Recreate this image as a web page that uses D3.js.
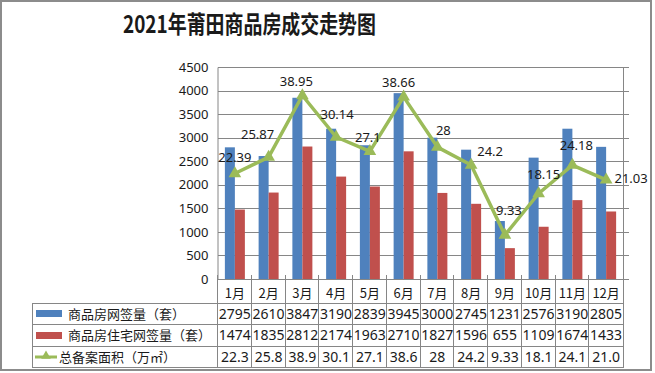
<!DOCTYPE html>
<html>
<head>
<meta charset="utf-8">
<script src="https://cdn.jsdelivr.net/npm/d3@7"></script>
<style>
    body { margin: 0; background: #fff; }
    svg text { font-family: "Noto Sans", "Noto Sans CJK SC", sans-serif; fill: #1a1a1a; }
</style>
</head>
<body>
<svg id="chart" width="655" height="373"></svg>
<script>
// data
var months = ["1月", "2月", "3月", "4月", "5月", "6月", "7月", "8月", "9月", "10月", "11月", "12月"];
var signed = [2795, 2610, 3847, 3190, 2839, 3945, 3000, 2745, 1231, 2576, 3190, 2805];
var resid = [1474, 1835, 2812, 2174, 1963, 2710, 1827, 1596, 655, 1109, 1674, 1433];
var area = [22.39, 25.87, 38.95, 30.14, 27.1, 38.66, 28, 24.2, 9.33, 18.15, 24.18, 21.03];
var leftTicks = [0, 500, 1000, 1500, 2000, 2500, 3000, 3500, 4000, 4500];
var seriesNames = ["商品房网签量（套）", "商品房住宅网签量（套）", "总备案面积（万㎡）"];
var title = "2021年莆田商品房成交走势图";

// label nudges (Excel hand placed them)
var labelShift = [[0, -16], [-11, -23], [-6, -14], [1, -23], [-2, -14], [-5, -14],
    [6, -17], [19, -13], [4, -25], [5, -19], [4, -20], [25, -1]];

var blue = "#4f81bd", red = "#c0504d", green = "#9bbb59", grid = "#868686";

var svg = d3.select("#chart");
var plotLeft = 218, plotRight = 623, plotTop = 67, plotBottom = 279;
var rows = [303, 324, 346, 367], legendLeft = 32;

// frame
svg.append("rect")
    .attr("x", 1).attr("y", 1).attr("width", 650).attr("height", 369)
    .attr("fill", "none").attr("stroke", "#8c8c8c").attr("stroke-width", 2);

svg.append("text")
    .attr("x", 123).attr("y", 33)
    .attr("textLength", 253).attr("lengthAdjust", "spacingAndGlyphs")
    .style("font-family", "'Noto Sans CJK SC', sans-serif")
    .style("font-size", "24px").style("font-weight", 700)
    .attr("fill", "#111")
    .text(title);

var x = d3.scaleBand().domain(months).range([plotLeft, plotRight]);
var y = d3.scaleLinear().domain([0, 4500]).range([plotBottom, plotTop]);
var y2 = d3.scaleLinear().domain([0, 45]).range([plotBottom, plotTop]);

// gridlines
svg.append("g").selectAll("line")
    .data(leftTicks.slice(1))
    .enter().append("line")
    .attr("x1", plotLeft).attr("x2", plotRight + 6)
    .attr("y1", function (d) { return Math.round(y(d)) + 0.5; })
    .attr("y2", function (d) { return Math.round(y(d)) + 0.5; })
    .attr("stroke", grid).attr("stroke-width", 1);

// left axis
var yAxis = svg.append("g")
    .attr("transform", "translate(" + (plotLeft - 0.5) + ",0)")
    .call(d3.axisLeft(y).tickValues(leftTicks).tickFormat(d3.format("d")).tickSize(0).tickPadding(9));
yAxis.select(".domain").attr("stroke", grid);
yAxis.selectAll("text").style("font-size", "13px").attr("fill", "#1a1a1a")
    .style("font-family", "'Noto Sans', sans-serif");

// right axis, no labels
svg.append("line")
    .attr("x1", plotRight + 0.5).attr("x2", plotRight + 0.5)
    .attr("y1", plotTop).attr("y2", plotBottom)
    .attr("stroke", grid);
svg.append("line")
    .attr("x1", plotRight).attr("x2", plotRight + 6)
    .attr("y1", plotBottom + 0.5).attr("y2", plotBottom + 0.5)
    .attr("stroke", grid);

// bars
var barW = 10;
var bars = svg.append("g");
bars.selectAll("rect.s")
    .data(signed).enter().append("rect")
    .attr("x", function (d, i) { return x(months[i]) + x.bandwidth() / 2 - barW; })
    .attr("y", function (d) { return y(d); })
    .attr("width", barW)
    .attr("height", function (d) { return plotBottom - y(d); })
    .attr("fill", blue);
bars.selectAll("rect.r")
    .data(resid).enter().append("rect")
    .attr("x", function (d, i) { return x(months[i]) + x.bandwidth() / 2; })
    .attr("y", function (d) { return y(d); })
    .attr("width", barW)
    .attr("height", function (d) { return plotBottom - y(d); })
    .attr("fill", red);

// area line
var line = d3.line()
    .x(function (d, i) { return x(months[i]) + x.bandwidth() / 2; })
    .y(function (d) { return y2(d); });

svg.append("path")
    .datum(area)
    .attr("d", line)
    .attr("fill", "none")
    .attr("stroke", green)
    .attr("stroke-width", 3.5)
    .attr("stroke-linejoin", "round");

var tri = d3.symbol().type(d3.symbolTriangle).size(70);
svg.append("g").selectAll("path")
    .data(area).enter().append("path")
    .attr("d", tri)
    .attr("transform", function (d, i) {
        return "translate(" + (x(months[i]) + x.bandwidth() / 2) + "," + y2(d) + ")";
    })
    .attr("fill", green);

svg.append("g").selectAll("text")
    .data(area).enter().append("text")
    .attr("x", function (d, i) { return x(months[i]) + x.bandwidth() / 2 + labelShift[i][0]; })
    .attr("y", function (d, i) { return y2(d) + labelShift[i][1] + 4.5; })
    .attr("text-anchor", "middle")
    .style("font-size", "13px")
    .text(function (d) { return d; });

// data table
var table = svg.append("g");
// month header
table.selectAll("text.m")
    .data(months).enter().append("text")
    .attr("x", function (d) { return x(d) + x.bandwidth() / 2; })
    .attr("y", 297.5)
    .attr("text-anchor", "middle")
    .style("font-family", "'Noto Sans CJK SC', sans-serif")
    .style("font-size", "13px")
    .text(function (d) { return d; });

// bottom axis line
table.append("line")
    .attr("x1", plotLeft).attr("x2", plotRight + 1)
    .attr("y1", plotBottom + 0.5).attr("y2", plotBottom + 0.5)
    .attr("stroke", grid);

rows.forEach(function (r) {
    table.append("line")
        .attr("x1", legendLeft).attr("x2", plotRight + 1)
        .attr("y1", r + 0.5).attr("y2", r + 0.5)
        .attr("stroke", grid);
});
table.append("line")
    .attr("x1", legendLeft + 0.5).attr("x2", legendLeft + 0.5)
    .attr("y1", rows[0]).attr("y2", rows[3] + 1)
    .attr("stroke", grid);
table.selectAll("line.v")
    .data(months.concat(["end"])).enter().append("line")
    .attr("x1", function (d) { return d == "end" ? plotRight + 0.5 : Math.round(x(d)) - 0.5; })
    .attr("x2", function (d) { return d == "end" ? plotRight + 0.5 : Math.round(x(d)) - 0.5; })
    .attr("y1", plotBottom - 4).attr("y2", rows[3] + 1)
    .attr("stroke", grid);

var tableRows = [signed, resid, area.map(function (v) { return String(v).slice(0, 4); })];
tableRows.forEach(function (vals, k) {
    var cy = (rows[k] + rows[k + 1]) / 2;
    table.append("g").selectAll("text")
        .data(vals).enter().append("text")
        .attr("x", function (d, i) { return x(months[i]) + x.bandwidth() / 2; })
        .attr("y", cy + 5)
        .attr("text-anchor", "middle")
        .style("font-size", "14px")
        .text(function (d) { return d; });

    table.append("text")
        .attr("x", k == 2 ? 59 : 68).attr("y", cy + 5)
        .style("font-family", "'Noto Sans CJK SC', sans-serif")
        .style("font-size", "13px")
        .attr("fill", "#333")
        .text(seriesNames[k]);
});

// legend keys
table.append("rect").attr("x", 36).attr("y", 310).attr("width", 26).attr("height", 7).attr("fill", blue);
table.append("rect").attr("x", 36).attr("y", 332).attr("width", 26).attr("height", 7).attr("fill", red);
table.append("line").attr("x1", 35).attr("x2", 57).attr("y1", 357).attr("y2", 357)
    .attr("stroke", green).attr("stroke-width", 3);
table.append("path")
    .attr("d", d3.symbol().type(d3.symbolTriangle).size(40))
    .attr("transform", "translate(46,356)")
    .attr("fill", green);
</script>
</body>
</html>
